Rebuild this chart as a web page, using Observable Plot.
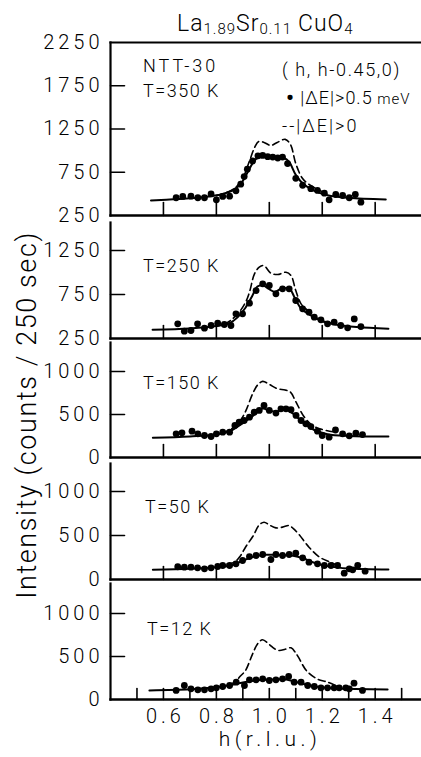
<!DOCTYPE html>
<html><head><meta charset="utf-8">
<script src="https://cdn.jsdelivr.net/npm/d3@7"></script>
<script src="https://cdn.jsdelivr.net/npm/@observablehq/plot@0.6"></script>
<style>
html,body{margin:0;padding:0;background:#fff;overflow:hidden}
#page{position:relative;width:421px;height:757px;font-family:Roboto,"Liberation Sans",Arial,sans-serif;font-weight:300;color:#000;background:#fff}
.abs{position:absolute;white-space:nowrap;line-height:1}
.panel{position:absolute;left:0}
sub{font-size:15px;vertical-align:-3px;line-height:1}
</style></head><body><div id="page"></div>
<script>
// ---------- data (h in r.l.u., intensity in counts / 250 sec) ----------
const temps = ["T=350 K", "T=250 K", "T=150 K", "T=50 K", "T=12 K"];
const hMajor = [0.6, 0.8, 1.0, 1.2, 1.4];
const hMinor = [0.5, 0.6, 0.7, 0.8, 0.9, 1.0, 1.1, 1.2, 1.3, 1.4, 1.5];
const yLabelsHigh = [250, 750, 1250, 1750, 2250];
const yLabelsMid = [250, 750, 1250];
const yLabelsLow = [0, 500, 1000];

const dots350 = [[0.648,455],[0.673,470],[0.704,473],[0.73,455],[0.755,455],[0.78,500],[0.80,431],[0.824,470],[0.85,473],[0.874,535],[0.892,612],[0.905,700],[0.917,785],[0.937,880],[0.957,940],[0.975,945],[0.994,930],[1.013,925],[1.032,915],[1.05,925],[1.069,850],[1.10,680],[1.126,600],[1.157,560],[1.182,540],[1.208,508],[1.226,431],[1.251,493],[1.277,481],[1.302,455],[1.325,493],[1.346,404]];
const fit350 = [[0.553,423],[0.65,440],[0.75,462],[0.82,495],[0.87,555],[0.90,650],[0.925,790],[0.95,905],[0.975,930],[1.0,920],[1.03,915],[1.055,915],[1.075,870],[1.10,720],[1.13,610],[1.17,535],[1.22,485],[1.30,455],[1.44,435]];
const full350 = [[0.80,480],[0.85,530],[0.875,580],[0.90,680],[0.925,880],[0.945,1040],[0.96,1105],[0.98,1095],[1.005,1060],[1.03,1095],[1.06,1130],[1.08,1070],[1.10,850],[1.125,680],[1.15,610],[1.19,540],[1.22,495]];

const dots250 = [[0.654,417],[0.679,333],[0.704,341],[0.729,417],[0.755,367],[0.78,398],[0.805,424],[0.83,409],[0.855,398],[0.874,530],[0.899,530],[0.925,651],[0.95,795],[0.975,871],[1.0,852],[1.025,758],[1.05,815],[1.075,815],[1.10,682],[1.126,587],[1.15,549],[1.17,492],[1.195,462],[1.22,417],[1.245,435],[1.27,398],[1.296,371],[1.321,473],[1.346,386]];
const fit250 = [[0.559,349],[0.70,365],[0.80,392],[0.85,425],[0.88,490],[0.91,600],[0.935,730],[0.955,840],[0.975,855],[1.0,810],[1.02,780],[1.045,815],[1.075,820],[1.095,720],[1.12,590],[1.15,525],[1.19,460],[1.25,410],[1.33,380],[1.45,360]];
const full250 = [[0.83,410],[0.86,470],[0.886,549],[0.91,660],[0.925,776],[0.944,985],[0.962,1060],[0.979,1079],[1.006,992],[1.032,977],[1.063,1003],[1.082,966],[1.10,795],[1.12,644],[1.145,568],[1.18,474],[1.22,424]];

const dots150 = [[0.648,275],[0.67,287],[0.708,306],[0.73,275],[0.755,256],[0.78,244],[0.80,275],[0.824,295],[0.85,295],[0.87,372],[0.886,411],[0.905,430],[0.925,469],[0.943,527],[0.962,547],[0.98,605],[1.0,547],[1.025,516],[1.044,566],[1.063,566],[1.082,555],[1.101,489],[1.12,430],[1.138,392],[1.157,360],[1.182,306],[1.20,256],[1.226,236],[1.25,320],[1.277,275],[1.302,252],[1.327,283],[1.352,267]];
const fit150 = [[0.56,229],[0.70,245],[0.80,268],[0.86,320],[0.90,400],[0.94,490],[0.975,570],[1.0,545],[1.03,535],[1.06,560],[1.09,510],[1.13,400],[1.17,320],[1.22,270],[1.30,250],[1.45,244]];
const full150 = [[0.82,285],[0.85,320],[0.874,372],[0.895,450],[0.912,547],[0.937,741],[0.955,840],[0.975,885],[1.0,850],[1.03,800],[1.06,785],[1.08,760],[1.10,650],[1.13,480],[1.16,380],[1.19,334],[1.24,300]];

const dots50 = [[0.654,145],[0.679,140],[0.704,140],[0.729,133],[0.755,121],[0.78,133],[0.805,148],[0.824,159],[0.85,159],[0.874,178],[0.899,216],[0.925,261],[0.95,273],[0.975,284],[1.006,227],[1.025,284],[1.05,273],[1.075,284],[1.10,299],[1.126,246],[1.15,197],[1.182,178],[1.208,159],[1.233,159],[1.258,159],[1.283,72],[1.302,121],[1.315,110],[1.334,159],[1.362,95]];
const fit50 = [[0.56,110],[0.70,122],[0.80,138],[0.86,165],[0.90,215],[0.94,258],[0.98,280],[1.02,280],[1.06,275],[1.09,270],[1.13,238],[1.17,190],[1.22,152],[1.30,125],[1.45,114]];
const full50 = [[0.84,175],[0.87,200],[0.89,265],[0.91,367],[0.94,500],[0.96,613],[0.98,651],[1.0,620],[1.025,587],[1.05,595],[1.075,613],[1.09,580],[1.11,519],[1.15,367],[1.19,254],[1.23,197],[1.26,160]];

const dots12 = [[0.648,105],[0.679,163],[0.704,124],[0.73,112],[0.755,112],[0.78,124],[0.80,136],[0.824,151],[0.85,163],[0.875,202],[0.906,163],[0.925,229],[0.95,229],[0.975,240],[1.0,221],[1.025,229],[1.05,240],[1.073,268],[1.094,202],[1.12,202],[1.145,163],[1.17,151],[1.195,136],[1.22,136],[1.245,136],[1.264,136],[1.289,136],[1.302,124],[1.32,190],[1.352,105]];
const fit12 = [[0.547,105],[0.70,118],[0.80,142],[0.86,172],[0.90,198],[0.95,222],[1.0,230],[1.05,235],[1.08,222],[1.12,188],[1.17,155],[1.25,130],[1.447,116]];
const full12 = [[0.85,180],[0.87,202],[0.89,270],[0.91,337],[0.937,531],[0.956,648],[0.974,694],[1.0,640],[1.02,590],[1.038,570],[1.06,585],[1.082,601],[1.10,540],[1.11,492],[1.14,337],[1.18,240],[1.22,202],[1.25,163]];

// ---------- layout ----------
const page = document.getElementById("page");
const W = 421, ML = 110;
const xDomain = [0.4, 1.575];
const stick = {draw(context, l) { context.moveTo(0, 0); context.lineTo(0, -l); }};
const FONT = "Roboto, 'Liberation Sans', Arial, sans-serif";

function panel(cfg) {
  const mt = 14, mb = cfg.xLabels ? 34 : 4;
  const h = cfg.bottom - cfg.top;
  const yMax = cfg.yMin + h * cfg.perPx;
  const marks = [
    Plot.axisY({ticks: cfg.yLabels, tickSize: 0, tickPadding: 7, tickFormat: d => String(d)}),
    Plot.vector(cfg.yTicks, {y: d => d, frameAnchor: "left", length: 14, rotate: 90, anchor: "start", shape: stick, stroke: "black", strokeWidth: 1.6}),
    Plot.vector(cfg.xTicks, {x: d => d, frameAnchor: "bottom", length: cfg.xTickLen, rotate: 0, anchor: "start", shape: stick, stroke: "black", strokeWidth: 1.6}),
    Plot.frame({anchor: "left", strokeWidth: 2.2}),
    Plot.frame({anchor: "bottom", strokeWidth: 2.4}),
    Plot.line(cfg.full, {x: d => d[0], y: d => d[1], curve: "catmull-rom", stroke: "black", strokeWidth: 1.6, strokeDasharray: "7,4"}),
    Plot.line(cfg.fit, {x: d => d[0], y: d => d[1], curve: "catmull-rom", stroke: "black", strokeWidth: 2}),
    Plot.dot(cfg.dots, {x: d => d[0], y: d => d[1], r: 3.4, fill: "black", stroke: "none"})
  ];
  if (cfg.topLine) marks.push(Plot.frame({anchor: "top", strokeWidth: 2.2}));
  if (cfg.xLabels) marks.push(Plot.axisX({ticks: cfg.xLabels, tickSize: 0, tickPadding: 9, tickFormat: d3.format(".1f"), dx: 2}));
  const svg = Plot.plot({
    width: W, height: h + mt + mb,
    marginLeft: ML, marginRight: 0, marginTop: mt, marginBottom: mb,
    x: {domain: xDomain, axis: cfg.xLabels ? undefined : null},
    y: {domain: [cfg.yMin, yMax]},
    style: {fontFamily: FONT, fontWeight: 300, fontSize: "20px", letterSpacing: "4px", background: "transparent", overflow: "visible", color: "black"},
    marks
  });
  svg.classList.add("panel");
  svg.style.top = (cfg.top - mt) + "px";
  page.appendChild(svg);
}

panel({top: 42, bottom: 215, yMin: 250, perPx: 2000/173, yLabels: yLabelsHigh, yTicks: [750,1250,1750], xTicks: hMajor, xTickLen: 13, dots: dots350, fit: fit350, full: full350, topLine: true});
panel({top: 222, bottom: 338, yMin: 250, perPx: 1000/88, yLabels: yLabelsMid, yTicks: [750,1250], xTicks: hMajor, xTickLen: 13, dots: dots250, fit: fit250, full: full250});
panel({top: 342, bottom: 457, yMin: 0, perPx: 1000/86, yLabels: yLabelsLow, yTicks: [500,1000], xTicks: hMajor, xTickLen: 13, dots: dots150, fit: fit150, full: full150});
panel({top: 463, bottom: 579, yMin: 0, perPx: 1000/88, yLabels: yLabelsLow, yTicks: [500,1000], xTicks: hMajor, xTickLen: 13, dots: dots50, fit: fit50, full: full50});
panel({top: 583, bottom: 699, yMin: 0, perPx: 1000/86, yLabels: yLabelsLow, yTicks: [500,1000], xTicks: hMinor, xTickLen: 11, dots: dots12, fit: fit12, full: full12, xLabels: hMajor});

// ---------- text ----------
function txt(html, x, baseline, size, extra = "") {
  const d = document.createElement("div");
  d.className = "abs";
  d.innerHTML = html;
  d.style.cssText += `left:${x}px;top:${baseline - 0.86 * size}px;font-size:${size}px;${extra}`;
  page.appendChild(d);
  return d;
}
txt("La<sub>1.89</sub>Sr<sub>0.11</sub><span style='margin-left:6px'>CuO</span><sub>4</sub>", 177, 32, 23, "letter-spacing:1px;");
txt("NTT-30", 143, 72, 18, "letter-spacing:3px;");
txt(temps[0], 143, 97, 18, "letter-spacing:1.5px;");
txt("( h, h-0.45,0)", 282, 76, 18, "letter-spacing:1.6px;");
txt("<span style='font-size:22px;font-weight:700;vertical-align:-1px'>•</span> |ΔE|&gt;0.5<span style='font-size:15px'> meV</span>", 286, 102, 18, "letter-spacing:1px;");
txt("--|ΔE|&gt;0", 282, 132, 18, "letter-spacing:2px;");
txt(temps[1], 143, 272, 18, "letter-spacing:1.5px;");
txt(temps[2], 143, 389, 18, "letter-spacing:1.5px;");
txt(temps[3], 145, 513, 18, "letter-spacing:1.5px;");
txt(temps[4], 147, 635, 18, "letter-spacing:1.5px;");

const xl = txt("h(r.l.u.)", 0, 747, 21, "letter-spacing:4.5px;");
xl.style.left = "270px"; xl.style.transform = "translateX(-50%)";

const yl = document.createElement("div");
yl.className = "abs";
yl.textContent = "Intensity (counts / 250 sec)";
yl.style.cssText += "left:27px;top:415px;font-size:27px;letter-spacing:1.6px;transform:translate(-50%,-50%) rotate(-90deg);";
page.appendChild(yl);
</script>
</body></html>
